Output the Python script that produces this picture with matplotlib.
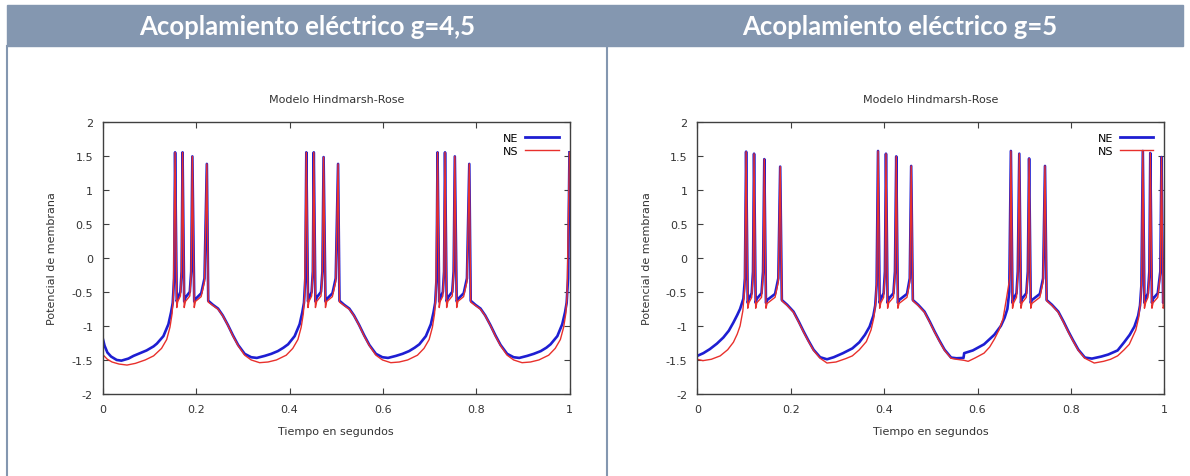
import matplotlib.pyplot as plt
from matplotlib.patches import Rectangle
from matplotlib.lines import Line2D

plt.rcParams['axes.unicode_minus'] = False

panel_titles = ['Acoplamiento eléctrico g=4,5', 'Acoplamiento eléctrico g=5']
plot_title = 'Modelo Hindmarsh-Rose'
x_label = 'Tiempo en segundos'
y_label = 'Potencial de membrana'
series_names = ['NE', 'NS']
x_ticks = [0, 0.2, 0.4, 0.6, 0.8, 1]
x_tick_labels = ['0', '0.2', '0.4', '0.6', '0.8', '1']
y_ticks = [-2, -1.5, -1, -0.5, 0, 0.5, 1, 1.5, 2]
y_tick_labels = ['-2', '-1.5', '-1', '-0.5', '0', '0.5', '1', '1.5', '2']

ne_g45 = [
    (0.000, -1.18), (0.004, -1.29), (0.010, -1.39), (0.018, -1.45), (0.030, -1.50), (0.040, -1.51), (0.055, -1.48),
    (0.066, -1.44), (0.080, -1.40), (0.094, -1.36), (0.109, -1.30), (0.116, -1.26), (0.130, -1.15), (0.1407, -0.975),
    (0.1464, -0.80), (0.150, -0.66), (0.1529, -0.30),
    (0.155, 1.55), (0.1586, -0.64), (0.1614, -0.58), (0.1664, -0.50), (0.169, -0.20),
    (0.171, 1.55), (0.1745, -0.64), (0.1775, -0.58), (0.1865, -0.50), (0.1895, -0.20),
    (0.192, 1.49), (0.196, -0.64), (0.1995, -0.60), (0.211, -0.52), (0.218, -0.30),
    (0.223, 1.38), (0.226, -0.63),
    (0.236, -0.69), (0.247, -0.745), (0.257, -0.845), (0.268, -0.985), (0.279, -1.14), (0.290, -1.28), (0.304, -1.41),
    (0.318, -1.46), (0.330, -1.47),
    (0.347, -1.44), (0.361, -1.41), (0.375, -1.37), (0.387, -1.32), (0.397, -1.27), (0.411, -1.15), (0.4217, -0.975),
    (0.4274, -0.80), (0.431, -0.66), (0.4339, -0.30),
    (0.436, 1.55), (0.4396, -0.64), (0.4424, -0.58), (0.4474, -0.50), (0.450, -0.20),
    (0.452, 1.55), (0.4555, -0.64), (0.4585, -0.58), (0.4675, -0.50), (0.4705, -0.20),
    (0.473, 1.48), (0.477, -0.64), (0.4805, -0.60), (0.492, -0.52), (0.499, -0.30),
    (0.504, 1.38), (0.507, -0.63),
    (0.517, -0.69), (0.528, -0.745), (0.538, -0.845), (0.549, -0.985), (0.560, -1.14), (0.571, -1.28), (0.585, -1.41),
    (0.599, -1.46), (0.611, -1.47),
    (0.628, -1.44), (0.642, -1.41), (0.656, -1.37), (0.668, -1.32), (0.678, -1.27), (0.692, -1.15), (0.7027, -0.975),
    (0.7084, -0.80), (0.712, -0.66), (0.7149, -0.30),
    (0.717, 1.55), (0.7206, -0.64), (0.7234, -0.58), (0.7284, -0.50), (0.731, -0.20),
    (0.733, 1.55), (0.7365, -0.64), (0.7395, -0.58), (0.7485, -0.50), (0.7515, -0.20),
    (0.754, 1.49), (0.758, -0.64), (0.7615, -0.60), (0.773, -0.52), (0.780, -0.30),
    (0.785, 1.38), (0.788, -0.63),
    (0.798, -0.69), (0.809, -0.745), (0.819, -0.845), (0.830, -0.985), (0.841, -1.14), (0.852, -1.28), (0.866, -1.41),
    (0.880, -1.46), (0.892, -1.47),
    (0.909, -1.44), (0.923, -1.41), (0.938, -1.37), (0.950, -1.32), (0.959, -1.27), (0.9735, -1.15), (0.984, -0.975),
    (0.990, -0.80), (0.9935, -0.66), (0.9965, -0.30),
    (0.9995, 1.55),
]
ns_g45 = [
    (0.000, -1.42), (0.010, -1.49), (0.020, -1.53), (0.035, -1.56), (0.052, -1.575), (0.070, -1.55),
    (0.091, -1.50), (0.109, -1.44), (0.126, -1.33), (0.137, -1.20), (0.144, -1.02), (0.1486, -0.82), (0.1514, -0.55),
    (0.155, 1.55), (0.1586, -0.73), (0.1607, -0.64), (0.1664, -0.56), (0.1686, -0.25),
    (0.171, 1.55), (0.1745, -0.73), (0.1772, -0.64), (0.1865, -0.56), (0.1893, -0.25),
    (0.192, 1.49), (0.196, -0.73), (0.1986, -0.64), (0.2108, -0.57), (0.218, -0.35),
    (0.223, 1.38), (0.226, -0.65),
    (0.236, -0.70), (0.247, -0.755), (0.257, -0.85), (0.268, -0.99), (0.279, -1.15), (0.290, -1.29), (0.304, -1.43),
    (0.318, -1.50), (0.336, -1.54), (0.354, -1.53),
    (0.372, -1.50), (0.393, -1.43), (0.407, -1.33), (0.418, -1.20), (0.425, -1.02), (0.4296, -0.82), (0.4324, -0.55),
    (0.436, 1.55), (0.4396, -0.73), (0.4417, -0.64), (0.4474, -0.56), (0.4496, -0.25),
    (0.452, 1.55), (0.4555, -0.73), (0.4582, -0.64), (0.4675, -0.56), (0.4703, -0.25),
    (0.473, 1.48), (0.477, -0.73), (0.4796, -0.64), (0.4918, -0.57), (0.499, -0.35),
    (0.504, 1.38), (0.507, -0.65),
    (0.517, -0.70), (0.528, -0.755), (0.538, -0.85), (0.549, -0.99), (0.560, -1.15), (0.571, -1.29), (0.585, -1.43),
    (0.599, -1.50), (0.617, -1.54), (0.635, -1.53),
    (0.653, -1.50), (0.674, -1.43), (0.688, -1.33), (0.699, -1.20), (0.706, -1.02), (0.7106, -0.82), (0.7134, -0.55),
    (0.717, 1.55), (0.7206, -0.73), (0.7227, -0.64), (0.7284, -0.56), (0.7306, -0.25),
    (0.733, 1.55), (0.7365, -0.73), (0.7392, -0.64), (0.7485, -0.56), (0.7513, -0.25),
    (0.754, 1.49), (0.758, -0.73), (0.7606, -0.64), (0.7728, -0.57), (0.780, -0.35),
    (0.785, 1.38), (0.788, -0.65),
    (0.798, -0.70), (0.809, -0.755), (0.819, -0.85), (0.830, -0.99), (0.841, -1.15), (0.852, -1.29), (0.866, -1.43),
    (0.880, -1.50), (0.898, -1.54), (0.916, -1.53),
    (0.934, -1.50), (0.955, -1.43), (0.969, -1.33), (0.980, -1.20), (0.987, -1.02), (0.9916, -0.82), (0.9944, -0.55),
    (0.9995, 1.55),
]

ne_g5 = [
    (0.000, -1.44), (0.013, -1.40), (0.027, -1.34), (0.042, -1.26), (0.0558, -1.17), (0.0675, -1.07), (0.0773, -0.95),
    (0.0855, -0.84), (0.0916, -0.75), (0.0987, -0.60), (0.102, -0.30),
    (0.1045, 1.56), (0.108, -0.66), (0.1105, -0.60), (0.1165, -0.52), (0.1193, -0.20),
    (0.1215, 1.53), (0.125, -0.66), (0.1275, -0.60), (0.1375, -0.52), (0.1408, -0.20),
    (0.1435, 1.45), (0.147, -0.66), (0.1495, -0.62), (0.1665, -0.53), (0.1735, -0.30),
    (0.1775, 1.34), (0.181, -0.62),
    (0.1925, -0.69), (0.206, -0.79), (0.2175, -0.94), (0.2275, -1.08), (0.2375, -1.21), (0.249, -1.35), (0.263, -1.46),
    (0.2777, -1.49), (0.292, -1.46),
    (0.312, -1.40), (0.332, -1.33), (0.347, -1.24), (0.359, -1.13), (0.369, -1.01), (0.377, -0.85), (0.381, -0.70),
    (0.384, -0.40),
    (0.387, 1.57), (0.3905, -0.66), (0.393, -0.60), (0.399, -0.52), (0.4018, -0.20),
    (0.404, 1.53), (0.4075, -0.66), (0.410, -0.60), (0.420, -0.52), (0.4233, -0.20),
    (0.426, 1.49), (0.4295, -0.66), (0.432, -0.62), (0.449, -0.53), (0.455, -0.30),
    (0.458, 1.35), (0.4615, -0.62),
    (0.473, -0.69), (0.4865, -0.79), (0.498, -0.94), (0.508, -1.08), (0.518, -1.21), (0.5295, -1.35), (0.5435, -1.465),
    (0.555, -1.475), (0.570, -1.47), (0.5715, -1.40),
    (0.590, -1.36), (0.614, -1.27), (0.636, -1.13), (0.650, -1.00), (0.658, -0.88), (0.664, -0.75), (0.668, -0.50),
    (0.6715, 1.57), (0.675, -0.66), (0.6775, -0.60), (0.6835, -0.52), (0.6863, -0.20),
    (0.6895, 1.53), (0.693, -0.66), (0.6955, -0.60), (0.7045, -0.52), (0.7078, -0.20),
    (0.7105, 1.46), (0.714, -0.66), (0.7165, -0.62), (0.7335, -0.53), (0.7405, -0.30),
    (0.7445, 1.35), (0.748, -0.62),
    (0.7595, -0.69), (0.773, -0.79), (0.7845, -0.94), (0.7945, -1.08), (0.8045, -1.21), (0.816, -1.35), (0.830, -1.465),
    (0.845, -1.48), (0.865, -1.45),
    (0.880, -1.42), (0.900, -1.36), (0.914, -1.24), (0.926, -1.13), (0.936, -1.01), (0.944, -0.85), (0.948, -0.70),
    (0.951, -0.40),
    (0.954, 1.57), (0.9575, -0.66), (0.960, -0.60), (0.965, -0.52), (0.968, -0.20),
    (0.970, 1.54), (0.9735, -0.66), (0.976, -0.60), (0.986, -0.52), (0.9915, -0.20),
    (0.994, 1.48), (0.9975, -0.66), (1.000, -0.55),
]
ns_g5 = [
    (0.000, -1.49), (0.012, -1.51), (0.030, -1.49), (0.049, -1.44), (0.065, -1.35), (0.0773, -1.24), (0.0855, -1.12),
    (0.0916, -1.00), (0.0975, -0.78), (0.1015, -0.45),
    (0.1045, 1.56), (0.108, -0.74), (0.1105, -0.66), (0.1165, -0.58), (0.1195, -0.25),
    (0.1215, 1.53), (0.125, -0.74), (0.1275, -0.66), (0.1375, -0.58), (0.141, -0.25),
    (0.1435, 1.45), (0.147, -0.74), (0.1495, -0.67), (0.1665, -0.58), (0.1735, -0.35),
    (0.1775, 1.34), (0.181, -0.63),
    (0.1925, -0.70), (0.206, -0.80), (0.2175, -0.95), (0.2275, -1.09), (0.2375, -1.22), (0.249, -1.36), (0.263, -1.475),
    (0.2777, -1.545), (0.297, -1.53), (0.318, -1.48),
    (0.332, -1.44), (0.347, -1.35), (0.362, -1.23), (0.372, -1.06), (0.378, -0.88), (0.382, -0.65), (0.3845, -0.30),
    (0.387, 1.57), (0.3905, -0.74), (0.393, -0.66), (0.399, -0.58), (0.402, -0.25),
    (0.404, 1.53), (0.4075, -0.74), (0.410, -0.66), (0.420, -0.58), (0.4235, -0.25),
    (0.426, 1.49), (0.4295, -0.74), (0.432, -0.67), (0.449, -0.58), (0.455, -0.35),
    (0.458, 1.35), (0.4615, -0.63),
    (0.473, -0.70), (0.4865, -0.80), (0.498, -0.95), (0.508, -1.09), (0.518, -1.22), (0.5295, -1.36), (0.5435, -1.475),
    (0.555, -1.49), (0.571, -1.505), (0.580, -1.52), (0.595, -1.47),
    (0.614, -1.40), (0.626, -1.31), (0.6365, -1.19), (0.646, -1.06), (0.6545, -0.90), (0.6615, -0.62), (0.669, -0.30),
    (0.6715, 1.57), (0.675, -0.74), (0.6775, -0.66), (0.6835, -0.58), (0.6865, -0.25),
    (0.6895, 1.53), (0.693, -0.74), (0.6955, -0.66), (0.7045, -0.58), (0.708, -0.25),
    (0.7105, 1.46), (0.714, -0.74), (0.7165, -0.67), (0.7335, -0.58), (0.7405, -0.35),
    (0.7445, 1.35), (0.748, -0.63),
    (0.7595, -0.70), (0.773, -0.80), (0.7845, -0.95), (0.7945, -1.09), (0.8045, -1.22), (0.816, -1.36), (0.830, -1.475),
    (0.850, -1.545), (0.870, -1.52), (0.885, -1.49),
    (0.900, -1.44), (0.914, -1.35), (0.925, -1.27), (0.933, -1.15), (0.939, -1.06), (0.945, -0.88), (0.949, -0.65),
    (0.9515, -0.30),
    (0.954, 1.57), (0.9575, -0.74), (0.960, -0.66), (0.965, -0.58), (0.968, -0.25),
    (0.970, 1.54), (0.9735, -0.74), (0.976, -0.66), (0.986, -0.58), (0.9915, -0.25),
    (0.994, 1.48), (0.9975, -0.74), (1.000, -0.70),
]

header_color = '#8497b0'
ne_color = '#1e1ed2'
ns_color = '#e8302c'
ink = '#333333'

W, H = 1190, 477
fig = plt.figure(figsize=(W / 100, H / 100), dpi=100)

# table look: header band and cell borders
fig.patches.append(Rectangle((7 / W, 1 - 47 / H), (1183 - 7) / W, 41 / H,
                             transform=fig.transFigure, color=header_color, zorder=0))
for xp in (7, 607):
    fig.add_artist(Line2D([xp / W, xp / W], [0, 1 - 47 / H], color=header_color, lw=1.5))
for title, xc in zip(panel_titles, (307, 900)):
    fig.text(xc / W, 1 - 27 / H, title, ha='center', va='center', color='white',
             fontsize=18.5, fontweight='bold', family='Lato')

panels = [(ne_g45, ns_g45, 102.7), (ne_g5, ns_g5, 697.3)]
for ne, ns, left in panels:
    ax = fig.add_axes([left / W, (H - 395) / H, 467 / W, 272.3 / H])
    t_ne, v_ne = zip(*ne)
    t_ns, v_ns = zip(*ns)
    ax.plot(t_ne, v_ne, color=ne_color, lw=1.9, label=series_names[0])
    ax.plot(t_ns, v_ns, color=ns_color, lw=1.0, label=series_names[1])

    ax.set_xlim(0, 1)
    ax.set_ylim(-2, 2)
    ax.set_xticks(x_ticks)
    ax.set_xticklabels(x_tick_labels)
    ax.set_yticks(y_ticks)
    ax.set_yticklabels(y_tick_labels)
    ax.tick_params(direction='in', top=True, right=True, length=4, width=0.8,
                   color='#404040', labelsize=8, labelcolor=ink, pad=7)
    for sp in ax.spines.values():
        sp.set_color('#404040')
        sp.set_linewidth(1.0)

    ax.set_title(plot_title, fontsize=8, color=ink, pad=14)
    ax.set_xlabel(x_label, fontsize=8, color=ink, labelpad=9)
    ax.set_ylabel(y_label, fontsize=8, color=ink, labelpad=10)
    leg = ax.legend(loc='upper right', frameon=False, markerfirst=False, handlelength=3.0,
                    fontsize=8, labelspacing=0.3, borderaxespad=0.6, handletextpad=0.6)
    leg.get_lines()[0].set_linewidth(2.0)

fig.savefig('out.png', dpi=100)
